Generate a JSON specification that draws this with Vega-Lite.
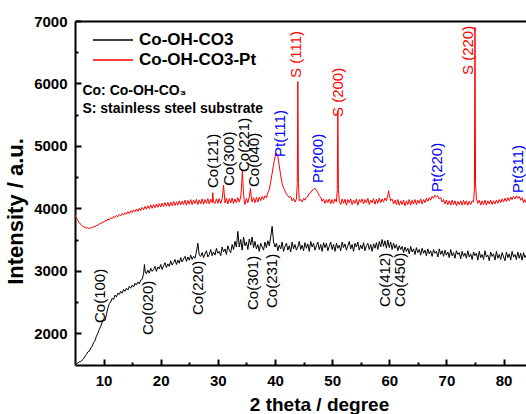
{
"$schema":"https://vega.github.io/schema/vega-lite/v6.json",
"width":451,"height":344,
"autosize":{"type":"none"},
"padding":{"left":75,"top":21,"right":0,"bottom":49},
"background":"white",
"datasets":{
"pt":[{"x":5.0,"y":3895},{"x":5.25,"y":3845},{"x":5.5,"y":3800},{"x":5.75,"y":3775},{"x":6.0,"y":3740},{"x":6.25,"y":3725},{"x":6.5,"y":3700},{"x":6.75,"y":3700},{"x":7.0,"y":3680},{"x":7.25,"y":3690},{"x":7.5,"y":3670},{"x":7.75,"y":3690},{"x":8.0,"y":3685},{"x":8.25,"y":3710},{"x":8.5,"y":3700},{"x":8.75,"y":3730},{"x":9.0,"y":3725},{"x":9.25,"y":3755},{"x":9.5,"y":3750},{"x":9.75,"y":3780},{"x":10.0,"y":3775},{"x":10.25,"y":3805},{"x":10.5,"y":3795},{"x":10.75,"y":3830},{"x":11.0,"y":3815},{"x":11.25,"y":3850},{"x":11.5,"y":3835},{"x":11.75,"y":3870},{"x":12.0,"y":3850},{"x":12.25,"y":3885},{"x":12.5,"y":3865},{"x":12.75,"y":3900},{"x":13.0,"y":3880},{"x":13.25,"y":3915},{"x":13.5,"y":3895},{"x":13.75,"y":3930},{"x":14.0,"y":3905},{"x":14.25,"y":3945},{"x":14.5,"y":3915},{"x":14.75,"y":3960},{"x":15.0,"y":3930},{"x":15.25,"y":3975},{"x":15.5,"y":3945},{"x":15.75,"y":3990},{"x":16.0,"y":3950},{"x":16.25,"y":4000},{"x":16.5,"y":3965},{"x":16.75,"y":4015},{"x":17.0,"y":3975},{"x":17.25,"y":4030},{"x":17.5,"y":3985},{"x":17.75,"y":4040},{"x":18.0,"y":3995},{"x":18.25,"y":4055},{"x":18.5,"y":4000},{"x":18.75,"y":4060},{"x":19.0,"y":4010},{"x":19.25,"y":4070},{"x":19.5,"y":4015},{"x":19.75,"y":4075},{"x":20.0,"y":4020},{"x":20.25,"y":4085},{"x":20.5,"y":4030},{"x":20.75,"y":4090},{"x":21.0,"y":4035},{"x":21.25,"y":4095},{"x":21.5,"y":4030},{"x":21.75,"y":4100},{"x":22.0,"y":4040},{"x":22.25,"y":4110},{"x":22.5,"y":4045},{"x":22.75,"y":4105},{"x":23.0,"y":4050},{"x":23.25,"y":4120},{"x":23.5,"y":4055},{"x":23.75,"y":4115},{"x":24.0,"y":4060},{"x":24.25,"y":4130},{"x":24.5,"y":4050},{"x":24.75,"y":4125},{"x":25.0,"y":4065},{"x":25.25,"y":4140},{"x":25.5,"y":4060},{"x":25.75,"y":4130},{"x":26.0,"y":4075},{"x":26.25,"y":4145},{"x":26.5,"y":4060},{"x":26.75,"y":4135},{"x":27.0,"y":4070},{"x":27.25,"y":4150},{"x":27.5,"y":4065},{"x":27.75,"y":4140},{"x":28.0,"y":4080},{"x":28.25,"y":4155},{"x":28.5,"y":4070},{"x":28.75,"y":4145},{"x":29.0,"y":4090},{"x":29.1,"y":4250},{"x":29.25,"y":4100},{"x":29.5,"y":4075},{"x":29.75,"y":4150},{"x":30.0,"y":4080},{"x":30.25,"y":4160},{"x":30.5,"y":4075},{"x":30.75,"y":4150},{"x":31.0,"y":4370},{"x":31.25,"y":4085},{"x":31.5,"y":4160},{"x":31.75,"y":4070},{"x":32.0,"y":4155},{"x":32.25,"y":4085},{"x":32.5,"y":4165},{"x":32.75,"y":4075},{"x":33.0,"y":4150},{"x":33.25,"y":4090},{"x":33.5,"y":4170},{"x":33.75,"y":4100},{"x":34.0,"y":4180},{"x":34.15,"y":4350},{"x":34.3,"y":4600},{"x":34.45,"y":4300},{"x":34.6,"y":4130},{"x":34.75,"y":4060},{"x":35.0,"y":4160},{"x":35.25,"y":4090},{"x":35.5,"y":4180},{"x":35.7,"y":4320},{"x":35.9,"y":4150},{"x":36.0,"y":4100},{"x":36.25,"y":4170},{"x":36.5,"y":4090},{"x":36.75,"y":4175},{"x":37.0,"y":4100},{"x":37.25,"y":4180},{"x":37.5,"y":4120},{"x":37.75,"y":4190},{"x":38.0,"y":4140},{"x":38.25,"y":4200},{"x":38.5,"y":4170},{"x":38.75,"y":4250},{"x":39.0,"y":4300},{"x":39.25,"y":4420},{"x":39.5,"y":4560},{"x":39.75,"y":4700},{"x":40.0,"y":4820},{"x":40.25,"y":4880},{"x":40.5,"y":4830},{"x":40.75,"y":4680},{"x":41.0,"y":4520},{"x":41.25,"y":4400},{"x":41.5,"y":4330},{"x":41.75,"y":4280},{"x":42.0,"y":4230},{"x":42.25,"y":4200},{"x":42.5,"y":4170},{"x":42.75,"y":4190},{"x":43.0,"y":4120},{"x":43.25,"y":4160},{"x":43.5,"y":4100},{"x":43.75,"y":4150},{"x":43.9,"y":4400},{"x":44.0,"y":6030},{"x":44.1,"y":4400},{"x":44.25,"y":4120},{"x":44.5,"y":4140},{"x":44.75,"y":4100},{"x":45.0,"y":4160},{"x":45.25,"y":4130},{"x":45.5,"y":4180},{"x":45.75,"y":4190},{"x":46.0,"y":4240},{"x":46.25,"y":4250},{"x":46.5,"y":4290},{"x":46.75,"y":4300},{"x":47.0,"y":4320},{"x":47.25,"y":4290},{"x":47.5,"y":4250},{"x":47.75,"y":4200},{"x":48.0,"y":4180},{"x":48.25,"y":4110},{"x":48.5,"y":4150},{"x":48.75,"y":4080},{"x":49.0,"y":4140},{"x":49.25,"y":4090},{"x":49.5,"y":4150},{"x":49.75,"y":4070},{"x":50.0,"y":4140},{"x":50.25,"y":4080},{"x":50.5,"y":4150},{"x":50.75,"y":4100},{"x":50.9,"y":4300},{"x":51.0,"y":5560},{"x":51.1,"y":4300},{"x":51.25,"y":4110},{"x":51.5,"y":4060},{"x":51.75,"y":4150},{"x":52.0,"y":4080},{"x":52.25,"y":4145},{"x":52.5,"y":4050},{"x":52.75,"y":4140},{"x":53.0,"y":4090},{"x":53.25,"y":4150},{"x":53.5,"y":4060},{"x":53.75,"y":4130},{"x":54.0,"y":4080},{"x":54.25,"y":4150},{"x":54.5,"y":4050},{"x":54.75,"y":4140},{"x":55.0,"y":4095},{"x":55.25,"y":4150},{"x":55.5,"y":4070},{"x":55.75,"y":4140},{"x":56.0,"y":4085},{"x":56.25,"y":4160},{"x":56.5,"y":4060},{"x":56.75,"y":4130},{"x":57.0,"y":4090},{"x":57.25,"y":4155},{"x":57.5,"y":4065},{"x":57.75,"y":4145},{"x":58.0,"y":4080},{"x":58.25,"y":4160},{"x":58.5,"y":4090},{"x":58.75,"y":4150},{"x":59.0,"y":4100},{"x":59.25,"y":4165},{"x":59.5,"y":4120},{"x":59.75,"y":4210},{"x":59.9,"y":4280},{"x":60.0,"y":4220},{"x":60.25,"y":4120},{"x":60.5,"y":4150},{"x":60.75,"y":4070},{"x":61.0,"y":4130},{"x":61.25,"y":4060},{"x":61.5,"y":4140},{"x":61.75,"y":4050},{"x":62.0,"y":4120},{"x":62.25,"y":4060},{"x":62.5,"y":4130},{"x":62.75,"y":4040},{"x":63.0,"y":4120},{"x":63.25,"y":4060},{"x":63.5,"y":4140},{"x":63.75,"y":4050},{"x":64.0,"y":4130},{"x":64.25,"y":4070},{"x":64.5,"y":4140},{"x":64.75,"y":4060},{"x":65.0,"y":4130},{"x":65.25,"y":4080},{"x":65.5,"y":4150},{"x":65.75,"y":4070},{"x":66.0,"y":4140},{"x":66.25,"y":4090},{"x":66.5,"y":4160},{"x":66.75,"y":4110},{"x":67.0,"y":4170},{"x":67.25,"y":4130},{"x":67.5,"y":4190},{"x":67.75,"y":4160},{"x":68.0,"y":4210},{"x":68.25,"y":4180},{"x":68.5,"y":4200},{"x":68.75,"y":4150},{"x":69.0,"y":4170},{"x":69.25,"y":4100},{"x":69.5,"y":4140},{"x":69.75,"y":4070},{"x":70.0,"y":4130},{"x":70.25,"y":4060},{"x":70.5,"y":4120},{"x":70.75,"y":4050},{"x":71.0,"y":4130},{"x":71.25,"y":4060},{"x":71.5,"y":4120},{"x":71.75,"y":4040},{"x":72.0,"y":4110},{"x":72.25,"y":4060},{"x":72.5,"y":4120},{"x":72.75,"y":4050},{"x":73.0,"y":4130},{"x":73.25,"y":4060},{"x":73.5,"y":4120},{"x":73.75,"y":4050},{"x":74.0,"y":4110},{"x":74.25,"y":4060},{"x":74.5,"y":4120},{"x":74.75,"y":4100},{"x":74.9,"y":4300},{"x":75.0,"y":6900},{"x":75.1,"y":4400},{"x":75.25,"y":4150},{"x":75.5,"y":4080},{"x":75.75,"y":4130},{"x":76.0,"y":4050},{"x":76.25,"y":4120},{"x":76.5,"y":4060},{"x":76.75,"y":4130},{"x":77.0,"y":4050},{"x":77.25,"y":4120},{"x":77.5,"y":4070},{"x":77.75,"y":4130},{"x":78.0,"y":4060},{"x":78.25,"y":4120},{"x":78.5,"y":4070},{"x":78.75,"y":4130},{"x":79.0,"y":4080},{"x":79.25,"y":4140},{"x":79.5,"y":4090},{"x":79.75,"y":4150},{"x":80.0,"y":4100},{"x":80.25,"y":4160},{"x":80.5,"y":4110},{"x":80.75,"y":4170},{"x":81.0,"y":4120},{"x":81.25,"y":4180},{"x":81.5,"y":4140},{"x":81.75,"y":4190},{"x":82.0,"y":4150},{"x":82.25,"y":4200},{"x":82.5,"y":4160},{"x":82.75,"y":4190},{"x":83.0,"y":4130},{"x":83.25,"y":4170},{"x":83.5,"y":4090},{"x":83.75,"y":4140},{"x":84.0,"y":4080}],
"co":[{"x":5.0,"y":1500},{"x":5.25,"y":1510},{"x":5.5,"y":1520},{"x":5.75,"y":1540},{"x":6.0,"y":1545},{"x":6.25,"y":1570},{"x":6.5,"y":1590},{"x":6.75,"y":1630},{"x":7.0,"y":1660},{"x":7.25,"y":1700},{"x":7.5,"y":1710},{"x":7.75,"y":1760},{"x":8.0,"y":1790},{"x":8.25,"y":1850},{"x":8.5,"y":1880},{"x":8.75,"y":1950},{"x":9.0,"y":2000},{"x":9.25,"y":2060},{"x":9.5,"y":2110},{"x":9.75,"y":2170},{"x":10.0,"y":2220},{"x":10.25,"y":2200},{"x":10.5,"y":2300},{"x":10.75,"y":2400},{"x":11.0,"y":2470},{"x":11.25,"y":2500},{"x":11.5,"y":2560},{"x":11.75,"y":2540},{"x":12.0,"y":2610},{"x":12.25,"y":2580},{"x":12.5,"y":2640},{"x":12.75,"y":2620},{"x":13.0,"y":2670},{"x":13.25,"y":2640},{"x":13.5,"y":2700},{"x":13.75,"y":2670},{"x":14.0,"y":2720},{"x":14.25,"y":2690},{"x":14.5,"y":2750},{"x":14.75,"y":2720},{"x":15.0,"y":2770},{"x":15.25,"y":2740},{"x":15.5,"y":2800},{"x":15.75,"y":2770},{"x":16.0,"y":2820},{"x":16.25,"y":2790},{"x":16.5,"y":2850},{"x":16.75,"y":2860},{"x":17.0,"y":2950},{"x":17.15,"y":3100},{"x":17.3,"y":2980},{"x":17.5,"y":2950},{"x":17.75,"y":3010},{"x":18.0,"y":2960},{"x":18.25,"y":3040},{"x":18.5,"y":2990},{"x":18.75,"y":3020},{"x":19.0,"y":3070},{"x":19.25,"y":2990},{"x":19.5,"y":3060},{"x":19.75,"y":3030},{"x":20.0,"y":3100},{"x":20.25,"y":3020},{"x":20.5,"y":3080},{"x":20.75,"y":3130},{"x":21.0,"y":3050},{"x":21.25,"y":3110},{"x":21.5,"y":3070},{"x":21.75,"y":3160},{"x":22.0,"y":3090},{"x":22.25,"y":3130},{"x":22.5,"y":3180},{"x":22.75,"y":3100},{"x":23.0,"y":3170},{"x":23.25,"y":3120},{"x":23.5,"y":3210},{"x":23.75,"y":3140},{"x":24.0,"y":3190},{"x":24.25,"y":3230},{"x":24.5,"y":3150},{"x":24.75,"y":3220},{"x":25.0,"y":3170},{"x":25.25,"y":3250},{"x":25.5,"y":3180},{"x":25.75,"y":3230},{"x":26.0,"y":3200},{"x":26.25,"y":3300},{"x":26.5,"y":3440},{"x":26.75,"y":3250},{"x":27.0,"y":3230},{"x":27.25,"y":3290},{"x":27.5,"y":3210},{"x":27.75,"y":3270},{"x":28.0,"y":3320},{"x":28.25,"y":3220},{"x":28.5,"y":3260},{"x":28.75,"y":3340},{"x":29.0,"y":3240},{"x":29.25,"y":3300},{"x":29.5,"y":3250},{"x":29.75,"y":3360},{"x":30.0,"y":3280},{"x":30.25,"y":3310},{"x":30.5,"y":3240},{"x":30.75,"y":3380},{"x":31.0,"y":3300},{"x":31.25,"y":3350},{"x":31.5,"y":3260},{"x":31.75,"y":3400},{"x":32.0,"y":3330},{"x":32.25,"y":3290},{"x":32.5,"y":3420},{"x":32.75,"y":3340},{"x":33.0,"y":3470},{"x":33.25,"y":3380},{"x":33.5,"y":3630},{"x":33.75,"y":3380},{"x":34.0,"y":3500},{"x":34.25,"y":3330},{"x":34.5,"y":3540},{"x":34.75,"y":3400},{"x":35.0,"y":3460},{"x":35.25,"y":3340},{"x":35.5,"y":3510},{"x":35.75,"y":3410},{"x":36.0,"y":3540},{"x":36.25,"y":3370},{"x":36.5,"y":3470},{"x":36.75,"y":3350},{"x":37.0,"y":3420},{"x":37.25,"y":3310},{"x":37.5,"y":3440},{"x":37.75,"y":3380},{"x":38.0,"y":3330},{"x":38.25,"y":3460},{"x":38.5,"y":3370},{"x":38.75,"y":3480},{"x":39.0,"y":3400},{"x":39.25,"y":3540},{"x":39.5,"y":3710},{"x":39.75,"y":3460},{"x":40.0,"y":3380},{"x":40.25,"y":3440},{"x":40.5,"y":3320},{"x":40.75,"y":3410},{"x":41.0,"y":3350},{"x":41.25,"y":3460},{"x":41.5,"y":3310},{"x":41.75,"y":3390},{"x":42.0,"y":3440},{"x":42.25,"y":3330},{"x":42.5,"y":3400},{"x":42.75,"y":3300},{"x":43.0,"y":3460},{"x":43.25,"y":3350},{"x":43.5,"y":3420},{"x":43.75,"y":3330},{"x":44.0,"y":3380},{"x":44.25,"y":3470},{"x":44.5,"y":3340},{"x":44.75,"y":3410},{"x":45.0,"y":3320},{"x":45.25,"y":3450},{"x":45.5,"y":3360},{"x":45.75,"y":3430},{"x":46.0,"y":3310},{"x":46.25,"y":3470},{"x":46.5,"y":3380},{"x":46.75,"y":3440},{"x":47.0,"y":3330},{"x":47.25,"y":3400},{"x":47.5,"y":3460},{"x":47.75,"y":3340},{"x":48.0,"y":3420},{"x":48.25,"y":3310},{"x":48.5,"y":3450},{"x":48.75,"y":3370},{"x":49.0,"y":3440},{"x":49.25,"y":3320},{"x":49.5,"y":3390},{"x":49.75,"y":3460},{"x":50.0,"y":3340},{"x":50.25,"y":3420},{"x":50.5,"y":3310},{"x":50.75,"y":3440},{"x":51.0,"y":3360},{"x":51.25,"y":3410},{"x":51.5,"y":3320},{"x":51.75,"y":3460},{"x":52.0,"y":3370},{"x":52.25,"y":3430},{"x":52.5,"y":3330},{"x":52.75,"y":3400},{"x":53.0,"y":3470},{"x":53.25,"y":3350},{"x":53.5,"y":3420},{"x":53.75,"y":3310},{"x":54.0,"y":3440},{"x":54.25,"y":3380},{"x":54.5,"y":3460},{"x":54.75,"y":3330},{"x":55.0,"y":3410},{"x":55.25,"y":3350},{"x":55.5,"y":3450},{"x":55.75,"y":3320},{"x":56.0,"y":3400},{"x":56.25,"y":3440},{"x":56.5,"y":3340},{"x":56.75,"y":3420},{"x":57.0,"y":3310},{"x":57.25,"y":3430},{"x":57.5,"y":3360},{"x":57.75,"y":3450},{"x":58.0,"y":3340},{"x":58.25,"y":3470},{"x":58.5,"y":3380},{"x":58.75,"y":3500},{"x":59.0,"y":3390},{"x":59.25,"y":3480},{"x":59.5,"y":3360},{"x":59.75,"y":3490},{"x":60.0,"y":3370},{"x":60.25,"y":3460},{"x":60.5,"y":3340},{"x":60.75,"y":3440},{"x":61.0,"y":3360},{"x":61.25,"y":3420},{"x":61.5,"y":3320},{"x":61.75,"y":3400},{"x":62.0,"y":3340},{"x":62.25,"y":3390},{"x":62.5,"y":3290},{"x":62.75,"y":3380},{"x":63.0,"y":3310},{"x":63.25,"y":3360},{"x":63.5,"y":3270},{"x":63.75,"y":3390},{"x":64.0,"y":3300},{"x":64.25,"y":3350},{"x":64.5,"y":3260},{"x":64.75,"y":3370},{"x":65.0,"y":3290},{"x":65.25,"y":3340},{"x":65.5,"y":3250},{"x":65.75,"y":3360},{"x":66.0,"y":3280},{"x":66.25,"y":3330},{"x":66.5,"y":3240},{"x":66.75,"y":3350},{"x":67.0,"y":3270},{"x":67.25,"y":3320},{"x":67.5,"y":3230},{"x":67.75,"y":3340},{"x":68.0,"y":3280},{"x":68.25,"y":3310},{"x":68.5,"y":3220},{"x":68.75,"y":3350},{"x":69.0,"y":3260},{"x":69.25,"y":3320},{"x":69.5,"y":3230},{"x":69.75,"y":3330},{"x":70.0,"y":3250},{"x":70.25,"y":3300},{"x":70.5,"y":3210},{"x":70.75,"y":3340},{"x":71.0,"y":3240},{"x":71.25,"y":3290},{"x":71.5,"y":3200},{"x":71.75,"y":3320},{"x":72.0,"y":3260},{"x":72.25,"y":3290},{"x":72.5,"y":3190},{"x":72.75,"y":3310},{"x":73.0,"y":3230},{"x":73.25,"y":3280},{"x":73.5,"y":3200},{"x":73.75,"y":3320},{"x":74.0,"y":3220},{"x":74.25,"y":3270},{"x":74.5,"y":3180},{"x":74.75,"y":3300},{"x":75.0,"y":3240},{"x":75.25,"y":3280},{"x":75.5,"y":3170},{"x":75.75,"y":3310},{"x":76.0,"y":3210},{"x":76.25,"y":3260},{"x":76.5,"y":3180},{"x":76.75,"y":3320},{"x":77.0,"y":3220},{"x":77.25,"y":3250},{"x":77.5,"y":3160},{"x":77.75,"y":3300},{"x":78.0,"y":3230},{"x":78.25,"y":3270},{"x":78.5,"y":3170},{"x":78.75,"y":3310},{"x":79.0,"y":3200},{"x":79.25,"y":3260},{"x":79.5,"y":3180},{"x":79.75,"y":3290},{"x":80.0,"y":3220},{"x":80.25,"y":3160},{"x":80.5,"y":3300},{"x":80.75,"y":3210},{"x":81.0,"y":3270},{"x":81.25,"y":3170},{"x":81.5,"y":3310},{"x":81.75,"y":3220},{"x":82.0,"y":3260},{"x":82.25,"y":3180},{"x":82.5,"y":3300},{"x":82.75,"y":3200},{"x":83.0,"y":3280},{"x":83.25,"y":3170},{"x":83.5,"y":3290},{"x":83.75,"y":3210},{"x":84.0,"y":3260}],
"coLabels":[{"t":"Co(100)","x":9.3,"y":2163},{"t":"Co(020)","x":17.75,"y":1971},{"t":"Co(220)","x":26.5,"y":2291},{"t":"Co(301)","x":36.1,"y":2371},{"t":"Co(231)","x":39.4,"y":2403},{"t":"Co(412)","x":59.2,"y":2419},{"t":"Co(450)","x":61.8,"y":2419},{"t":"Co(121)","x":29.2,"y":4325},{"t":"Co(300)","x":32.0,"y":4360},{"t":"Co(221)","x":34.6,"y":4581},{"t":"Co(040)","x":36.4,"y":4341}],
"ptLabels":[{"t":"Pt(111)","x":40.8,"y":4822},{"t":"Pt(200)","x":47.5,"y":4405},{"t":"Pt(220)","x":68.3,"y":4261},{"t":"Pt(311)","x":82.5,"y":4245}],
"sLabels":[{"t":"S (111)","x":43.75,"y":6087},{"t":"S (200)","x":51.0,"y":5462},{"t":"S (220)","x":73.75,"y":6135}],
"notes":[{"t":"Co: Co-OH-CO₃","x":6.3,"y":5879},{"t":"S: stainless steel substrate","x":6.3,"y":5590}]
},
"layer":[
{"data":{"name":"co"},"mark":{"type":"line","strokeWidth":1},
 "encoding":{
  "x":{"field":"x","type":"quantitative","scale":{"domain":[5,83.93],"nice":false,"zero":false},
       "axis":{"orient":"bottom","values":[10,20,30,40,50,60,70,80],"tickSize":-6,"labelPadding":14,"title":"2 theta / degree","titleFontSize":19,"titlePadding":7,"titleX":244}},
  "y":{"field":"y","type":"quantitative","scale":{"domain":[1490,7000],"nice":false,"zero":false},
       "axis":{"orient":"left","values":[2000,3000,4000,5000,6000,7000],"format":"d","tickSize":-6,"labelPadding":14,"title":"Intensity / a.u.","titleFontSize":22,"titlePadding":6,"titleY":190}},
  "color":{"datum":"Co-OH-CO3","scale":{"domain":["Co-OH-CO3","Co-OH-CO3-Pt"],"range":["#000000","#ff0000"]},
       "legend":{"orient":"none","legendX":17,"legendY":9,"title":null,"symbolType":"stroke","symbolSize":1600,"symbolStrokeWidth":1.5,"clipHeight":20,"labelFontSize":17,"labelFontWeight":"bold","labelFont":"Liberation Sans","labelColor":"black","labelOffset":5,"rowPadding":0,"padding":0}}
 }},
{"data":{"name":"pt"},"mark":{"type":"line","strokeWidth":1},
 "encoding":{
  "x":{"field":"x","type":"quantitative","axis":{"orient":"bottom","values":[15,25,35,45,55,65,75],"tickSize":-3,"labels":false,"domain":false,"title":null}},
  "y":{"field":"y","type":"quantitative","axis":{"orient":"left","values":[2500,3500,4500,5500,6500],"tickSize":-3,"labels":false,"domain":false,"title":null}},
  "color":{"datum":"Co-OH-CO3-Pt"}
 }},
{"data":{"name":"coLabels"},"mark":{"type":"text","angle":270,"align":"left","baseline":"middle","fontSize":15,"font":"Liberation Sans","color":"black"},
 "encoding":{
  "x":{"field":"x","type":"quantitative","axis":{"orient":"top","ticks":false,"labels":false,"title":null}},
  "y":{"field":"y","type":"quantitative","axis":null},
  "text":{"field":"t"}
 }},
{"data":{"name":"ptLabels"},"mark":{"type":"text","angle":270,"align":"left","baseline":"middle","fontSize":15,"font":"Liberation Sans","color":"#0000ff"},
 "encoding":{
  "x":{"field":"x","type":"quantitative","axis":null},
  "y":{"field":"y","type":"quantitative","axis":null},
  "text":{"field":"t"}
 }},
{"data":{"name":"sLabels"},"mark":{"type":"text","angle":270,"align":"left","baseline":"middle","fontSize":15,"font":"Liberation Sans","color":"#ff0000"},
 "encoding":{
  "x":{"field":"x","type":"quantitative","axis":null},
  "y":{"field":"y","type":"quantitative","axis":null},
  "text":{"field":"t"}
 }},
{"data":{"name":"notes"},"mark":{"type":"text","align":"left","baseline":"middle","fontSize":14,"fontWeight":"bold","font":"Liberation Sans","color":"black"},
 "encoding":{
  "x":{"field":"x","type":"quantitative","axis":null},
  "y":{"field":"y","type":"quantitative","axis":null},
  "text":{"field":"t"}
 }}
],
"resolve":{"axis":{"x":"independent","y":"independent"}},
"config":{
 "font":"Liberation Sans",
 "view":{"stroke":null},
 "axis":{"grid":false,"domainColor":"black","domainWidth":2,"tickColor":"black","tickWidth":2,"labelFont":"Liberation Sans","labelFontWeight":"bold","labelFontSize":15,"labelColor":"black","titleFont":"Liberation Sans","titleFontWeight":"bold","titleColor":"black"}
}
}
